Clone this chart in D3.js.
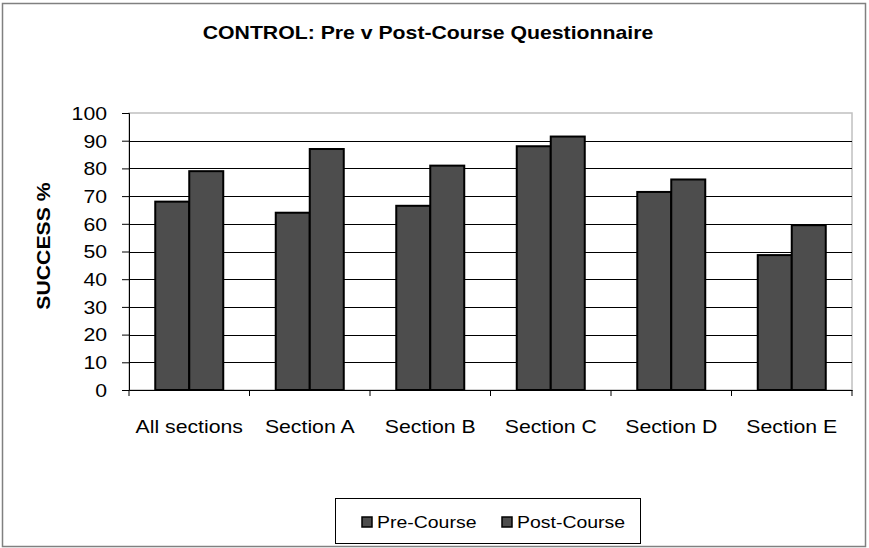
<!DOCTYPE html>
<html><head><meta charset="utf-8">
<script src="https://cdn.jsdelivr.net/npm/d3@7/dist/d3.min.js"></script>
<style>body{margin:0;background:#fff}svg{display:block;font-family:"Liberation Sans",Arial,sans-serif}</style>
</head><body><svg id="c" width="869" height="548"></svg>
<script>
const categories = ["All sections","Section A","Section B","Section C","Section D","Section E"];
const seriesNames = ["Pre-Course","Post-Course"];
const preCourse = [68, 64, 66.5, 88, 71.5, 48.7];
const postCourse = [79, 87, 81, 91.5, 76, 59.5];
const yTicks = [0,10,20,30,40,50,60,70,80,90,100];

const SX = 1.18; // horizontal stretch of the original text
const svg = d3.select("#c");
const L=129, R=852, T=113, B=390;
svg.append("rect").attr("x",2.5).attr("y",3.5).attr("width",863).attr("height",543).attr("fill","#fff").attr("stroke","#808080").attr("stroke-width",1.5);

const x = d3.scaleBand().domain(categories).range([L,R]);
const y = d3.scaleLinear().domain([0,100]).range([B,T]);

svg.append("rect").attr("x",L).attr("y",T).attr("width",R-L).attr("height",B-T).attr("fill","none").attr("stroke","#c0c0c0").attr("stroke-width",1.5);
svg.append("g").selectAll("line").data(yTicks.filter(d=>d>0&&d<100)).join("line")
  .attr("x1",L).attr("x2",R).attr("y1",d=>Math.round(y(d))+0.5).attr("y2",d=>Math.round(y(d))+0.5).attr("stroke","#000").attr("stroke-width",1);

const data = categories.map((c,i)=>({c, vals:[preCourse[i],postCourse[i]]}));
const bw = 34;
const g = svg.append("g");
data.forEach(d=>{
  const cx = x(d.c)+x.bandwidth()/2;
  d.vals.forEach((v,j)=>{
    g.append("rect").attr("x",cx-bw+j*bw).attr("y",y(v)).attr("width",bw).attr("height",B-y(v))
      .attr("fill","#4d4d4d").attr("stroke","#000").attr("stroke-width",2);
  });
});

// y axis
const ya = svg.append("g").attr("transform",`translate(${L},0)`).call(d3.axisLeft(y).tickValues(yTicks).tickSize(7));
ya.select(".domain").attr("stroke","#000");
ya.selectAll("line").attr("stroke","#000");
ya.selectAll("text").attr("font-size",18).attr("fill","#000").attr("font-family","Liberation Sans, Arial")
  .attr("x",-22/SX).attr("dy","0.35em").attr("transform",`scale(${SX},1)`);
// x axis
const xa = svg.append("g").attr("transform",`translate(0,${B})`).call(d3.axisBottom(x).tickSize(0));
xa.select(".domain").attr("stroke","#000");
xa.selectAll("text").attr("font-size",18).attr("fill","#000").attr("font-family","Liberation Sans, Arial")
  .attr("y",30).attr("dy","0.71em").attr("transform",`scale(${SX},1)`);
svg.append("g").selectAll("line").data(categories.concat(["_end"])).join("line")
  .attr("x1",(d,i)=>L+i*x.step()).attr("x2",(d,i)=>L+i*x.step()).attr("y1",B).attr("y2",B+6).attr("stroke","#000");

svg.append("text").attr("transform",`translate(428,39) scale(${SX},1)`).attr("text-anchor","middle").attr("font-size",18).attr("font-weight","bold").text("CONTROL: Pre v Post-Course Questionnaire");
svg.append("text").attr("transform",`translate(50,246) rotate(-90) scale(${SX},1)`).attr("text-anchor","middle").attr("font-size",18).attr("font-weight","bold").text("SUCCESS %");

// legend
const lg = svg.append("g");
lg.append("rect").attr("x",335.5).attr("y",498.5).attr("width",305).attr("height",45).attr("fill","#fff").attr("stroke","#000");
const lx=[362,502];
seriesNames.forEach((n,i)=>{
  lg.append("rect").attr("x",lx[i]).attr("y",517).attr("width",10).attr("height",10).attr("fill","#4d4d4d").attr("stroke","#000").attr("stroke-width",1.5);
  lg.append("text").attr("transform",`translate(${lx[i]+15},528) scale(${SX},1)`).attr("font-size",16.5).text(n);
});
</script></body></html>
